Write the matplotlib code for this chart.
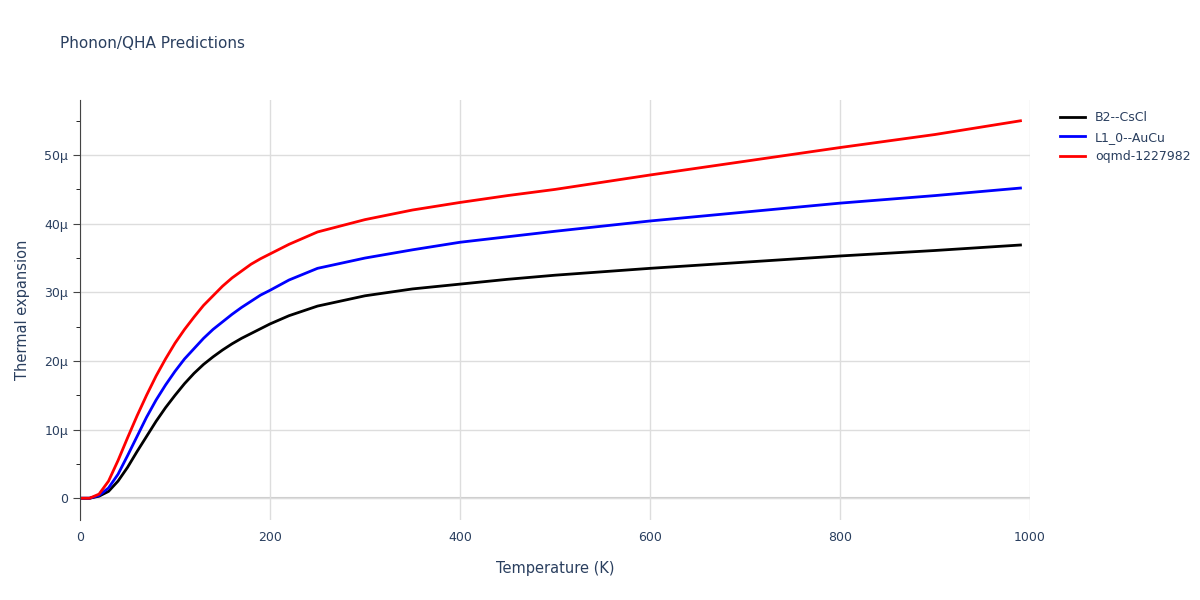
import numpy as np
import matplotlib.pyplot as plt
from matplotlib.ticker import FuncFormatter, MultipleLocator

temps = [0, 10, 20, 30, 40, 50, 60, 70, 80, 90, 100, 110, 120, 130, 140, 150, 160, 170, 180, 190,
         200, 220, 250, 300, 350, 400, 450, 500, 600, 700, 800, 900, 990]
b2_cscl = [0, 0, 0.3, 1, 2.5, 4.5, 6.8, 9, 11.2, 13.2, 15, 16.7, 18.2, 19.5, 20.6, 21.6, 22.5, 23.3,
           24, 24.7, 25.4, 26.6, 28, 29.5, 30.5, 31.2, 31.9, 32.5, 33.5, 34.4, 35.3, 36.1, 36.9]
l10_aucu = [0, 0, 0.4, 1.5, 3.5, 6.2, 9, 11.8, 14.3, 16.5, 18.5, 20.3, 21.8, 23.3, 24.6, 25.7, 26.8,
            27.8, 28.7, 29.6, 30.3, 31.8, 33.5, 35, 36.2, 37.3, 38.1, 38.9, 40.4, 41.7, 43, 44.1, 45.2]
oqmd = [0, 0, 0.6, 2.5, 5.5, 8.8, 12, 15, 17.8, 20.3, 22.6, 24.6, 26.4, 28.1, 29.5, 30.9, 32.1, 33.1,
        34.1, 34.9, 35.6, 37.0, 38.8, 40.6, 42, 43.1, 44.1, 45, 47.1, 49.1, 51.1, 53, 55]

series = [("B2--CsCl", b2_cscl, "black"), ("L1_0--AuCu", l10_aucu, "blue"), ("oqmd-1227982", oqmd, "red")]

fig = plt.figure(figsize=(12, 6), dpi=100)
ax = fig.add_axes([0.0667, 0.133, 0.7916, 0.7])
for name, vals, col in series:
    ax.plot(temps, np.array(vals) * 1e-6, color=col, lw=2, label=name)

ax.set_xlim(0, 1000)
ax.set_ylim(-3.2e-6, 58e-6)
ax.xaxis.set_major_locator(MultipleLocator(200))
ax.xaxis.set_minor_locator(MultipleLocator(50))
ax.yaxis.set_major_locator(MultipleLocator(10e-6))
ax.yaxis.set_minor_locator(MultipleLocator(5e-6))
ax.yaxis.set_major_formatter(FuncFormatter(lambda v, p: "0" if abs(v) < 1e-9 else "%dμ" % round(v * 1e6)))
ax.grid(True, which="major", color="#dddddd", lw=1)
ax.axhline(0, color="#cccccc", lw=1.5, zorder=0)
for s in ["top", "right"]:
    ax.spines[s].set_visible(False)
ax.spines["bottom"].set_visible(False)
ax.spines["left"].set_color("#444444")
ax.tick_params(colors="#444444", labelcolor="#2a3f5f", labelsize=9)
ax.tick_params(axis="x", which="both", length=0, pad=8)
ax.tick_params(axis="y", which="major", length=5)
ax.tick_params(axis="y", which="minor", length=3)
ax.set_xlabel("Temperature (K)", color="#2a3f5f", fontsize=10.5, labelpad=12)
ax.set_ylabel("Thermal expansion", color="#2a3f5f", fontsize=10.5, labelpad=10)
fig.text(0.05, 0.92, "Phonon/QHA Predictions", color="#2a3f5f", fontsize=11)
ax.legend(loc="upper left", bbox_to_anchor=(1.02, 1.0), frameon=False, fontsize=9,
          labelcolor="#2a3f5f", handlelength=2)
fig.savefig("out.png")
